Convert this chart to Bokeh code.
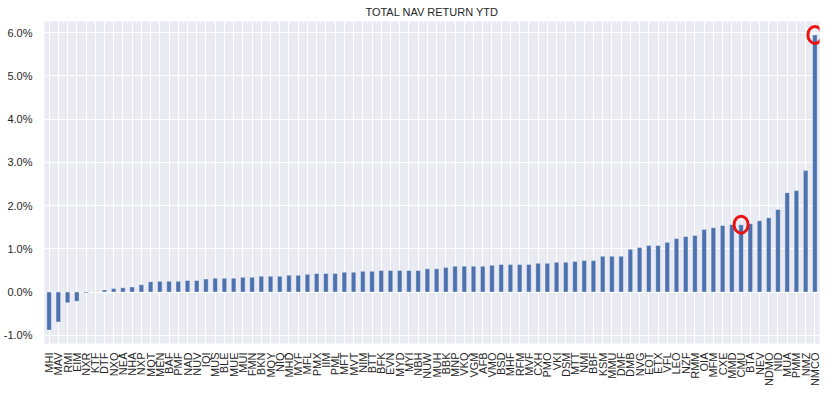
from bokeh.plotting import figure
from bokeh.models import FactorRange, Range1d, FixedTicker, PrintfTickFormatter, ColumnDataSource
from bokeh.embed import file_html
from bokeh.resources import INLINE
import math

funds = ["MHI", "MAV", "RMI", "EIM", "NXR", "KTF", "DTF", "NXQ", "NEA", "NHA", "NXP", "MQT", "MEN", "BAF",
         "PMF", "NAD", "NUV", "IQI", "MUS", "BLE", "MUE", "MUI", "FMN", "BKN", "MQY", "NIQ", "MHD", "MYF",
         "MFL", "PMX", "IIM", "PML", "MFT", "MVT", "NIM", "BTT", "BFK", "EVN", "MYD", "MYI", "NBH", "NUW",
         "MUH", "BBK", "MNP", "VKQ", "VGM", "AFB", "VMO", "BSD", "MHF", "RFM", "MVF", "CXH", "PMO", "VKI",
         "DSM", "MTT", "NMI", "BBF", "KSM", "MMU", "DMF", "DMB", "NVG", "EOT", "ETX", "VFL", "LEO", "NZF",
         "RMM", "OIA", "MFM", "CXE", "MMD", "CMU", "BTA", "NEV", "NDMO", "NID", "MUA", "PMM", "NMZ", "NMCO"]

nav_return_pct = [-0.88, -0.69, -0.25, -0.215, -0.02, 0.01, 0.05, 0.08, 0.10, 0.12, 0.17, 0.24, 0.25, 0.25,
                  0.25, 0.27, 0.27, 0.30, 0.32, 0.32, 0.32, 0.34, 0.34, 0.365, 0.365, 0.365, 0.39, 0.39,
                  0.41, 0.43, 0.43, 0.43, 0.46, 0.46, 0.48, 0.48, 0.50, 0.50, 0.50, 0.50, 0.50, 0.54,
                  0.54, 0.57, 0.60, 0.60, 0.60, 0.60, 0.62, 0.64, 0.64, 0.64, 0.64, 0.665, 0.665, 0.69,
                  0.69, 0.71, 0.73, 0.73, 0.83, 0.83, 0.83, 0.99, 1.03, 1.08, 1.08, 1.15, 1.24, 1.285,
                  1.31, 1.45, 1.49, 1.54, 1.56, 1.56, 1.58, 1.65, 1.72, 1.91, 2.30, 2.35, 2.81, 5.95]

highlighted = ["CMU", "NMCO"]
y_ticks = [-1, 0, 1, 2, 3, 4, 5, 6]

FONT = "Liberation Sans"
TEXT = "#262626"

p = figure(width=823, height=389, output_backend="svg", toolbar_location=None,
           x_range=FactorRange(factors=funds, range_padding=0),
           y_range=Range1d(-1.19, 6.26),
           title="TOTAL NAV RETURN YTD",
           min_border_left=43, min_border_right=4, min_border_top=0, min_border_bottom=0)

p.title.align = "center"
p.title.text_font = FONT
p.title.text_font_size = "11px"
p.title.text_font_style = "normal"
p.title.text_color = TEXT
p.title.standoff = 7

p.background_fill_color = "#EAEAF2"
p.border_fill_color = "white"
p.outline_line_color = None

src = ColumnDataSource(dict(fund=funds, val=nav_return_pct))
p.vbar(x="fund", top="val", bottom=0, width=0.5, source=src,
       fill_color="#4C72B0", line_color="white", line_width=0.4)

hl_vals = [nav_return_pct[funds.index(f)] for f in highlighted]
p.ellipse(x=highlighted, y=hl_vals, width=14, height=17, width_units="screen", height_units="screen",
          fill_color=None, line_color="#EE1111", line_width=3)

for ax in (p.xaxis, p.yaxis):
    ax.axis_line_color = None
    ax.major_tick_line_color = None
    ax.minor_tick_line_color = None
    ax.major_label_text_font = FONT
    ax.major_label_text_font_size = "11px"
    ax.major_label_text_color = TEXT

p.xaxis.major_label_orientation = math.pi / 2
p.xaxis.major_label_standoff = 3
p.yaxis.ticker = FixedTicker(ticks=y_ticks)
p.yaxis.formatter = PrintfTickFormatter(format="%.1f%%")
p.yaxis.major_label_standoff = 6

p.xgrid.grid_line_color = "white"
p.ygrid.grid_line_color = "white"
p.xgrid.grid_line_width = 1
p.ygrid.grid_line_width = 1

open("out.html", "w").write(file_html(p, INLINE))
